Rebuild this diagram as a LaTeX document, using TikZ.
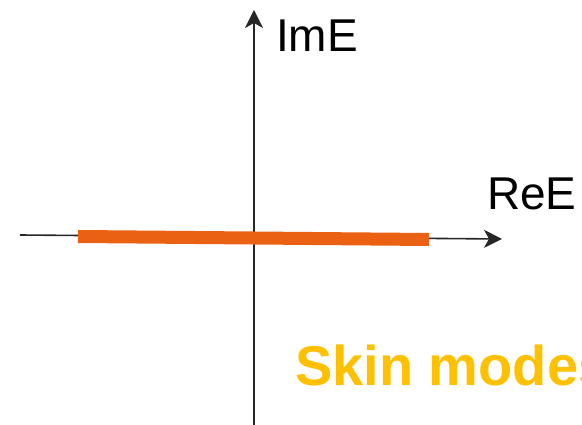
\documentclass[tikz,border=0pt]{standalone}
\usepackage{fontspec}
\setmainfont{Liberation Sans}
\usetikzlibrary{arrows.meta}
\definecolor{barorange}{RGB}{235,97,20}
\definecolor{skingold}{RGB}{255,192,0}
\tikzset{
  axis/.style={line width=1.6pt, black!85, -{Stealth[length=18pt,width=18pt,inset=5pt]}},
  bar/.style={line width=13pt, barorange},
  axlabel/.style={inner sep=0pt, anchor=base west, font=\fontsize{46}{50}\selectfont},
  skinlabel/.style={inner sep=0pt, anchor=base west, text=skingold, font=\fontsize{56}{60}\selectfont\bfseries}
}
\begin{document}
\begin{tikzpicture}[x=1pt,y=-1pt]
\clip (0,0) rectangle (582,425);
\useasboundingbox (0,0) rectangle (582,425);
\coordinate (xl) at (20,235);
\coordinate (xr) at (502,239);
\coordinate (yb) at (254,426);
\coordinate (yt) at (254,10);
\coordinate (bl) at (78,236.5);
\coordinate (br) at (429,239.5);
\draw[axis] (xl) -- (xr);
\draw[axis] (yb) -- (yt);
\draw[bar] (bl) -- (br);
\node[axlabel] (im) at (276,52) {ImE};
\node[axlabel] (re) at (487,210) {ReE};
\node[skinlabel] (skin) at (295,385) {Skin modes};
\end{tikzpicture}
\end{document}
